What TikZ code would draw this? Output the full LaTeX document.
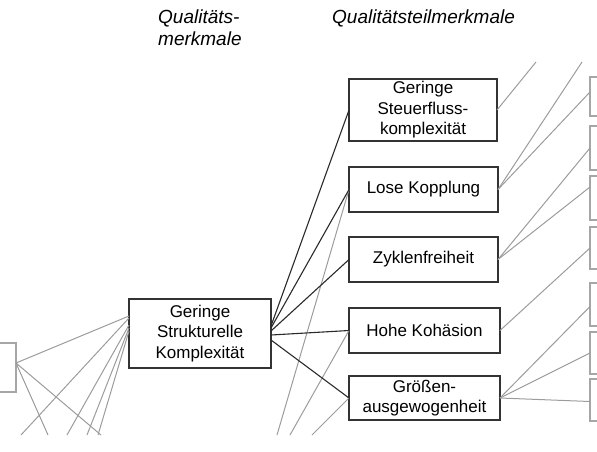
\documentclass[tikz,border=0pt]{standalone}
\usepackage{fontspec}
\setmainfont{Liberation Sans}
\usetikzlibrary{calc}
\definecolor{boxline}{HTML}{333333}
\definecolor{linkdark}{HTML}{2a2a2a}
\definecolor{linkgray}{HTML}{9c9c9c}
\definecolor{boxgray}{HTML}{a6a6a6}
\begin{document}
\begin{tikzpicture}[x=1pt,y=-1pt,
  mainbox/.style={draw=boxline,line width=1.2pt,rectangle,inner sep=0pt,outer sep=0pt,
    align=center,font=\fontsize{17}{20.5}\selectfont},
  sidebox/.style={draw=boxgray,line width=1.2pt,rectangle,inner sep=0pt,outer sep=0pt},
  strong/.style={draw=linkdark,line width=1.1pt},
  weak/.style={draw=linkgray,line width=1pt},
  header/.style={font=\fontsize{19}{22}\selectfont\itshape,inner sep=0pt,anchor=base west,align=left}]
\useasboundingbox (0,0) rectangle (597,451);

% column headings (base anchor sits on the last line)
\node[header] (qm) at (158,45) {Qualitäts-\\merkmale};
\node[header] (qt) at (332,23) {Qualitätsteilmerkmale};

% quality characteristic
\node[mainbox,minimum width=142pt,minimum height=69pt] (sk) at (200,333.5) {Geringe\\Strukturelle\\Komplexität};

% sub-characteristics
\node[mainbox,minimum width=148pt,minimum height=62pt] (sf) at (423,110) {Geringe\\Steuerfluss-\\komplexität};
\node[mainbox,minimum width=149pt,minimum height=45pt] (lk) at (423.5,189.5) {Lose Kopplung};
\node[mainbox,minimum width=149pt,minimum height=45pt] (zf) at (423.5,259.5) {Zyklenfreiheit};
\node[mainbox,minimum width=151pt,minimum height=45pt] (hk) at (424.5,330.5) {Hohe Kohäsion};
\node[mainbox,minimum width=151pt,minimum height=44pt] (gr) at (424.5,398) {Größen-\\ausgewogenheit};

% neighbouring boxes at the margins
\node[sidebox,minimum width=30pt,minimum height=49pt,anchor=east] (l1) at (16,367.5) {};
\node[sidebox,minimum width=40pt,minimum height=39pt,anchor=west] (r1) at (590,96.5) {};
\node[sidebox,minimum width=40pt,minimum height=44pt,anchor=west] (r2) at (590,148) {};
\node[sidebox,minimum width=40pt,minimum height=44pt,anchor=west] (r3) at (590,198) {};
\node[sidebox,minimum width=40pt,minimum height=42pt,anchor=west] (r4) at (590,248) {};
\node[sidebox,minimum width=40pt,minimum height=43pt,anchor=west] (r5) at (590,304.5) {};
\node[sidebox,minimum width=40pt,minimum height=42pt,anchor=west] (r6) at (590,353) {};
\node[sidebox,minimum width=40pt,minimum height=42pt,anchor=west] (r7) at (590,400) {};

% loose ends of links leaving the shown area
\coordinate (b1) at (21,435);
\coordinate (b2) at (48,435);
\coordinate (b3) at (67,435);
\coordinate (b4) at (87,435);
\coordinate (b5) at (98,435);
\coordinate (b6) at (101,435);
\coordinate (b7) at (277,435);
\coordinate (b8) at (290,435);
\coordinate (b9) at (312,435);
\coordinate (t1) at (536,62);
\coordinate (t2) at (582,62);

% links on the left
\draw[weak] ([yshift=4.5pt]l1.east) -- ([yshift=17.5pt]sk.west);
\draw[weak] ([yshift=4.5pt]l1.east) -- (b2);
\draw[weak] ([yshift=4.5pt]l1.east) -- (b6);
\draw[weak] ([yshift=15.5pt]sk.west) -- (b1);
\draw[weak] ([yshift=8.5pt]sk.west) -- (b3);
\draw[weak] ([yshift=5.5pt]sk.west) -- (b4);
\draw[weak] ([yshift=2.5pt]sk.west) -- (b5);

% links into the sub-characteristics from below
\draw[weak] (lk.west) -- (b7);
\draw[weak] (hk.west) -- (b8);
\draw[weak] (gr.west) -- (b9);

% characteristic to sub-characteristics
\draw[strong] ([yshift=7.5pt]sk.east) -- (sf.west);
\draw[strong] ([yshift=5.5pt]sk.east) -- (lk.west);
\draw[strong] ([yshift=2.5pt]sk.east) -- (zf.west);
\draw[strong] ([yshift=-1.5pt]sk.east) -- (hk.west);
\draw[strong] ([yshift=-6.5pt]sk.east) -- (gr.west);

% links on the right
\draw[weak] (sf.east) -- (t1);
\draw[weak] (lk.east) -- (t2);
\draw[weak] (lk.east) -- ([yshift=4.5pt]r1.west);
\draw[weak] (zf.east) -- (r2.west);
\draw[weak] (zf.east) -- ([yshift=11pt]r3.west);
\draw[weak] (hk.east) -- (r4.west);
\draw[weak] (gr.east) -- ([yshift=-2pt]r5.west);
\draw[weak] (gr.east) -- (r6.west);
\draw[weak] (gr.east) -- ([yshift=-1.5pt]r7.west);
\end{tikzpicture}
\end{document}
